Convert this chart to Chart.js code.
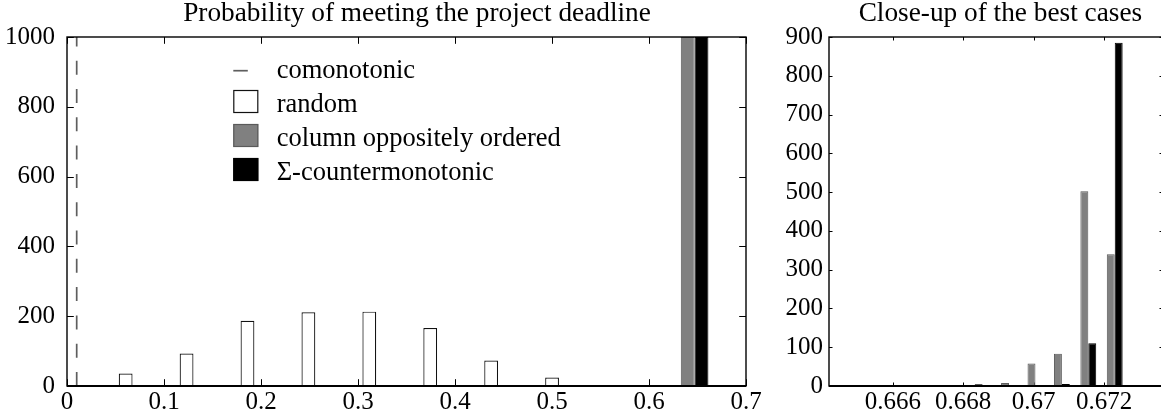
<!DOCTYPE html>
<html>
<head>
<meta charset="utf-8">
<script src="https://cdn.jsdelivr.net/npm/chart.js@4/dist/chart.umd.min.js"></script>
<style>
  html, body { margin: 0; padding: 0; background: #fff; overflow: hidden; width: 1161px; height: 417px; }
  canvas { position: absolute; top: 0; }
  #overall { left: 0; }
  #closeup { left: 768px; }
</style>
</head>
<body>
<canvas id="overall" width="770" height="417"></canvas>
<canvas id="closeup" width="400" height="417"></canvas>
<script>
// ---- Whole range: histogram of the probability of meeting the deadline (1000 runs each) ----
const overallBins = [0.0747, 0.1375, 0.2003, 0.2631, 0.3259, 0.3887, 0.4515, 0.5143, 0.5771, 0.6399];
const randomCounts = [36, 93, 187, 211, 213, 166, 73, 24, 0, 0];
const oppositeCounts = [0, 0, 0, 0, 0, 0, 0, 0, 0, 1000];
const counterCounts = [0, 0, 0, 0, 0, 0, 0, 0, 0, 1000];
const comonotonicValue = 0.0100;
const comonotonicCount = 1000;
const overallXTicks = [0, 0.1, 0.2, 0.3, 0.4, 0.5, 0.6, 0.7];
const overallXLabels = ['0', '0.1', '0.2', '0.3', '0.4', '0.5', '0.6', '0.7'];
const overallYTicks = [0, 200, 400, 600, 800, 1000];
const overallYLabels = ['0', '200', '400', '600', '800', '1000'];

// ---- Close-up on the best strategies ----
const closeBins = [0.66555, 0.66630, 0.66705, 0.66780, 0.66855, 0.66930, 0.67005, 0.67080, 0.67155, 0.67230];
const closeOpposite = [0, 0, 2, 1, 5, 8, 58, 83, 502, 340];
const closeCounter = [0, 0, 0, 0, 0, 0, 0, 5, 110, 885];
const closeXTicks = [0.666, 0.668, 0.670, 0.672];
const closeXLabels = ['0.666', '0.668', '0.67', '0.672'];
const closeYTicks = [0, 100, 200, 300, 400, 500, 600, 700, 800, 900];
const closeYLabels = ['0', '100', '200', '300', '400', '500', '600', '700', '800', '900'];

const seriesNames = ['comonotonic', 'random', 'column oppositely ordered', '\u03A3-countermonotonic'];

const SERIF = '"Liberation Serif", "Times New Roman", serif';
const LEGEND_FONT = '26.5px ' + SERIF;
const TITLE_FONT = '27.3px ' + SERIF;
const TICK_FONT = { family: SERIF, size: 25 };

const toPoints = (xs, ys) => xs.map((x, i) => ({ x: x, y: ys[i] }));

// Inward-pointing tick marks on all four sides (under the bars) and a box frame (over them)
const framePlugin = {
  id: 'boxFrame',
  beforeDatasetsDraw(chart, args, opts) {
    const { ctx, chartArea: a, scales } = chart;
    const L = opts.tickLength;
    ctx.save();
    ctx.strokeStyle = '#000';
    ctx.lineWidth = 1;
    ctx.beginPath();
    scales.x.ticks.forEach(t => {
      const px = Math.round(scales.x.getPixelForValue(t.value)) + 0.5;
      ctx.moveTo(px, a.bottom); ctx.lineTo(px, a.bottom - L);
      ctx.moveTo(px, a.top); ctx.lineTo(px, a.top + L);
    });
    scales.y.ticks.forEach(t => {
      const py = Math.round(scales.y.getPixelForValue(t.value)) + 0.5;
      ctx.moveTo(a.left, py); ctx.lineTo(a.left + L, py);
      ctx.moveTo(a.right, py); ctx.lineTo(a.right - L, py);
    });
    ctx.stroke();
    ctx.restore();
  },
  afterDatasetsDraw(chart) {
    const { ctx, chartArea: a } = chart;
    ctx.save();
    ctx.strokeStyle = '#000';
    ctx.lineWidth = 1.4;
    ctx.strokeRect(a.left, a.top, a.right - a.left, a.bottom - a.top);
    ctx.lineWidth = 2;
    ctx.beginPath();
    ctx.moveTo(a.left, a.bottom); ctx.lineTo(a.right, a.bottom);
    ctx.stroke();
    ctx.restore();
  }
};

// Panel title drawn above the plot area
const titlePlugin = {
  id: 'panelTitle',
  afterDraw(chart, args, opts) {
    const { ctx, chartArea: a } = chart;
    ctx.save();
    ctx.font = TITLE_FONT;
    ctx.fillStyle = '#000';
    ctx.textAlign = 'center';
    ctx.textBaseline = 'alphabetic';
    ctx.fillText(opts.text, (a.left + a.right) / 2 + opts.dx, opts.baseline);
    ctx.restore();
  }
};

// Legend inside the plot area: line sample for line series, filled box for bar series
const legendPlugin = {
  id: 'boxLegend',
  afterDraw(chart, args, opts) {
    if (!opts.display) return;
    const { ctx, chartArea: a } = chart;
    const x0 = a.left + opts.offsetX;
    ctx.save();
    ctx.font = LEGEND_FONT;
    ctx.textBaseline = 'alphabetic';
    ctx.textAlign = 'left';
    chart.data.datasets.forEach((ds, i) => {
      const top = a.top + opts.offsetY + i * opts.rowHeight;
      if (ds.type === 'line') {
        ctx.strokeStyle = ds.borderColor;
        ctx.lineWidth = ds.borderWidth;
        ctx.setLineDash([]);
        ctx.beginPath();
        ctx.moveTo(x0, top + 14.7);
        ctx.lineTo(x0 + 14.5, top + 14.7);
        ctx.stroke();
      } else {
        ctx.fillStyle = ds.backgroundColor;
        ctx.fillRect(x0, top, opts.boxWidth, opts.boxHeight);
        ctx.strokeStyle = ds.borderColor;
        ctx.lineWidth = 1.2;
        ctx.strokeRect(x0 + 0.5, top + 0.5, opts.boxWidth - 1, opts.boxHeight - 1);
      }
      ctx.fillStyle = '#000';
      ctx.fillText(ds.label, x0 + 43.4, top + 22.3);
    });
    ctx.restore();
  }
};

function axisX(min, max, tickValues, tickLabels, height) {
  return {
    type: 'linear', min: min, max: max, offset: false,
    grid: { display: false, drawTicks: false }, border: { display: false },
    afterBuildTicks: s => { s.ticks = tickValues.map(v => ({ value: v })); },
    afterFit: s => { s.height = height; },
    ticks: { autoSkip: false, maxRotation: 0, padding: 1, color: '#000', font: TICK_FONT,
             callback: (v, i) => tickLabels[i] }
  };
}
function axisY(min, max, tickValues, tickLabels, width, pad) {
  return {
    type: 'linear', min: min, max: max,
    grid: { display: false, drawTicks: false }, border: { display: false },
    afterBuildTicks: s => { s.ticks = tickValues.map(v => ({ value: v })); },
    afterFit: s => { s.width = width; },
    ticks: { autoSkip: false, padding: pad, color: '#000', font: TICK_FONT,
             callback: (v, i) => tickLabels[i] }
  };
}

new Chart(document.getElementById('overall'), {
  type: 'bar',
  data: {
    datasets: [
      { type: 'line', label: seriesNames[0],
        data: [{ x: comonotonicValue, y: 0 }, { x: comonotonicValue, y: comonotonicCount }],
        borderColor: '#5e5e5e', borderWidth: 1.7, borderDash: [14, 14.3],
        pointRadius: 0, fill: false, tension: 0 },
      { label: seriesNames[1], data: toPoints(overallBins, randomCounts),
        backgroundColor: '#ffffff', borderColor: '#111111', borderWidth: 1.2 },
      { label: seriesNames[2], data: toPoints(overallBins, oppositeCounts),
        backgroundColor: '#808080', borderColor: '#5a5a5a', borderWidth: 1 },
      { label: seriesNames[3], data: toPoints(overallBins, counterCounts),
        backgroundColor: '#000000', borderColor: '#000000', borderWidth: 1 }
    ]
  },
  options: {
    responsive: false, animation: false, devicePixelRatio: 1,
    layout: { padding: { left: 0, top: 37, right: 24, bottom: 0 } },
    datasets: { bar: { categoryPercentage: 0.68, barPercentage: 1, borderSkipped: 'start' } },
    scales: {
      x: axisX(0, 0.7, overallXTicks, overallXLabels, 31),
      y: axisY(0, 1000, overallYTicks, overallYLabels, 67, 12)
    },
    plugins: {
      legend: { display: false }, tooltip: { enabled: false },
      boxFrame: { tickLength: 6.8 },
      panelTitle: { text: 'Probability of meeting the project deadline', dx: 10.5, baseline: 21 },
      boxLegend: { display: true, offsetX: 166.3, offsetY: 19, rowHeight: 34, boxWidth: 25, boxHeight: 23 }
    }
  },
  plugins: [framePlugin, titlePlugin, legendPlugin]
});

new Chart(document.getElementById('closeup'), {
  type: 'bar',
  data: {
    datasets: [
      { label: seriesNames[2], data: toPoints(closeBins, closeOpposite),
        backgroundColor: '#808080', borderColor: '#5a5a5a', borderWidth: 1 },
      { label: seriesNames[3], data: toPoints(closeBins, closeCounter),
        backgroundColor: '#000000', borderColor: '#000000', borderWidth: 1 }
    ]
  },
  options: {
    responsive: false, animation: false, devicePixelRatio: 1,
    layout: { padding: { left: 0, top: 37, right: 5, bottom: 0 } },
    datasets: { bar: { categoryPercentage: 0.6, barPercentage: 1, borderSkipped: 'start' } },
    scales: {
      x: axisX(0.66419, 0.67367, closeXTicks, closeXLabels, 31),
      y: axisY(0, 900, closeYTicks, closeYLabels, 61, 6)
    },
    plugins: {
      legend: { display: false }, tooltip: { enabled: false },
      boxFrame: { tickLength: 3.5 },
      panelTitle: { text: 'Close-up of the best cases', dx: 4.4, baseline: 21 },
      boxLegend: { display: false }
    }
  },
  plugins: [framePlugin, titlePlugin, legendPlugin]
});
</script>
</body>
</html>
